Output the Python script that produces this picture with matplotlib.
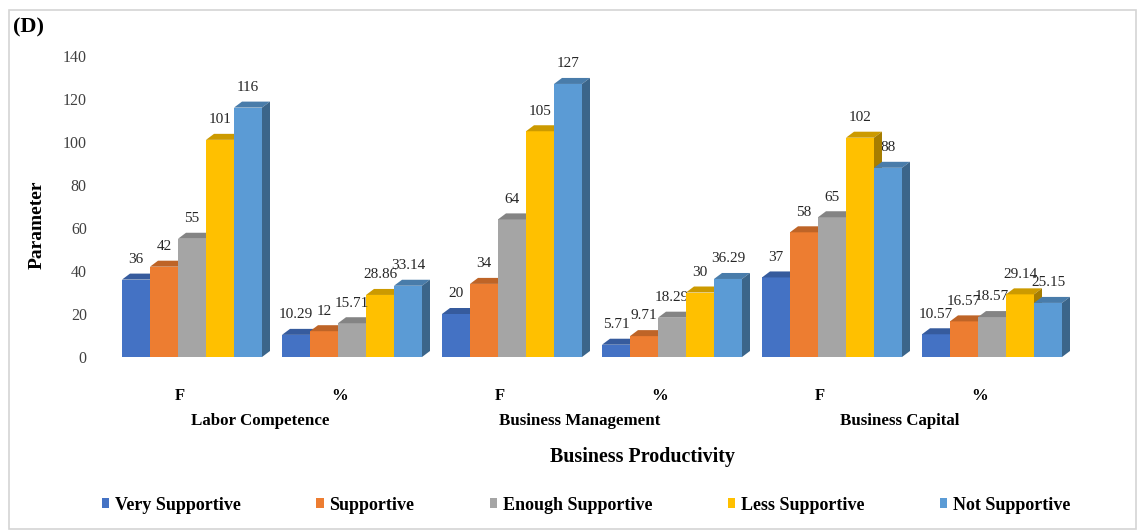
import matplotlib
matplotlib.use("Agg")
import matplotlib.pyplot as plt
import matplotlib.colors as mcolors
from matplotlib.patches import Polygon, Patch, Rectangle
import numpy as np

plt.rcParams['font.family'] = ['Liberation Serif', 'DejaVu Serif']

# Groups along the x axis
sub_labels = ["F", "%", "F", "%", "F", "%"]
group_labels = ["Labor Competence", "Business Management", "Business Capital"]
series_names = ["Very Supportive", "Supportive", "Enough Supportive",
                "Less Supportive", "Not Supportive"]

# Values per series across the six groups (F and % for each aspect)
very_supportive = [36, 10.29, 20, 5.71, 37, 10.57]
supportive = [42, 12, 34, 9.71, 58, 16.57]
enough_supportive = [55, 15.71, 64, 18.29, 65, 18.57]
less_supportive = [101, 28.86, 105, 30, 102, 29.14]
not_supportive = [116, 33.14, 127, 36.29, 88, 25.15]

series_values = [very_supportive, supportive, enough_supportive,
                 less_supportive, not_supportive]
colors = ["#4472C4", "#ED7D31", "#A5A5A5", "#FFC000", "#5B9BD5"]

W, H = 1142, 532
fig = plt.figure(figsize=(W / 100, H / 100), dpi=100)


def fx(px):
    return px / W


def fy(py):
    return 1 - py / H


# Outer frame
fig.patches.append(Rectangle((fx(9), fy(529)), fx(1136) - fx(9), fy(10) - fy(529),
                             transform=fig.transFigure, fill=False,
                             edgecolor="#D4D4D4", linewidth=1.2))

ax_left, ax_right = 100, 1100
ax_bottom, ax_top = 357, 56
ax = fig.add_axes([fx(ax_left), fy(ax_bottom), fx(ax_right - ax_left),
                   (ax_bottom - ax_top) / H])
ax.set_xlim(-0.575, 5.675)
ax.set_ylim(0, 140)
for s in ax.spines.values():
    s.set_visible(False)

px_per_x = (ax_right - ax_left) / 6.25
px_per_y = (ax_bottom - ax_top) / 140.0
bw = 0.175
dx = 8 / px_per_x
dy = 6 / px_per_y


def shade(c, f):
    r, g, b = mcolors.to_rgb(c)
    return (r * f, g * f, b * f)


n_groups = len(sub_labels)
z = 2
for gi in range(n_groups):
    for si, vals in enumerate(series_values):
        v = vals[gi]
        x0 = gi + (si - 2.5) * bw
        x1 = x0 + bw
        c = colors[si]
        ax.bar(x0, v, width=bw, align="edge", color=c, linewidth=0, zorder=z)
        top = Polygon([(x0, v), (x1, v), (x1 + dx, v + dy), (x0 + dx, v + dy)],
                      closed=True, facecolor=shade(c, 0.80), edgecolor="none", zorder=z)
        side = Polygon([(x1, 0), (x1 + dx, dy), (x1 + dx, v + dy), (x1, v)],
                       closed=True, facecolor=shade(c, 0.65), edgecolor="none", zorder=z)
        ax.add_patch(top)
        ax.add_patch(side)
        ax.annotate(f"{v:g}", xy=(x0 + bw / 2, v), xytext=(0, 14.5),
                    textcoords="offset points", ha="center", va="center",
                    fontsize=11, color="#262626", zorder=20)
        z += 1

# Y axis
ax.set_yticks(np.arange(0, 141, 20))
ax.tick_params(axis="y", length=0, pad=9.5, labelsize=11.5, labelcolor="#404040")
ax.set_ylabel("Parameter", fontsize=14, fontweight="bold")
ax.yaxis.set_label_coords((46 - ax_left) / (ax_right - ax_left),
                          (ax_bottom - 225) / (ax_bottom - ax_top))

# X axis: F / % per group
ax.set_xticks(np.arange(n_groups) - 0.075)
ax.set_xticklabels(sub_labels, fontsize=12, fontweight="bold")
ax.tick_params(axis="x", length=0, pad=22)

xt = ax.get_xaxis_transform()
for k, name in enumerate(group_labels):
    ax.text(2 * k + 0.5 - 0.075, (ax_bottom - 421) / (ax_bottom - ax_top), name,
            transform=xt, ha="center", va="center", fontsize=12.2,
            fontweight="bold")

fig.text(fx(642), fy(457), "Business Productivity", ha="center", va="center",
         fontsize=14.4, fontweight="bold")
fig.text(fx(13), fy(27), "(D)", ha="left", va="center", fontsize=16,
         fontweight="bold")

handles = [Patch(facecolor=c, edgecolor="none") for c in colors]
fig.legend(handles, series_names, loc="center", bbox_to_anchor=(fx(586), fy(505)),
           ncol=5, frameon=False, handlelength=0.4, handleheight=0.4,
           handletextpad=0.3, columnspacing=4.2,
           prop={"size": 13, "weight": "bold"})

fig.savefig("out.png", dpi=100)
